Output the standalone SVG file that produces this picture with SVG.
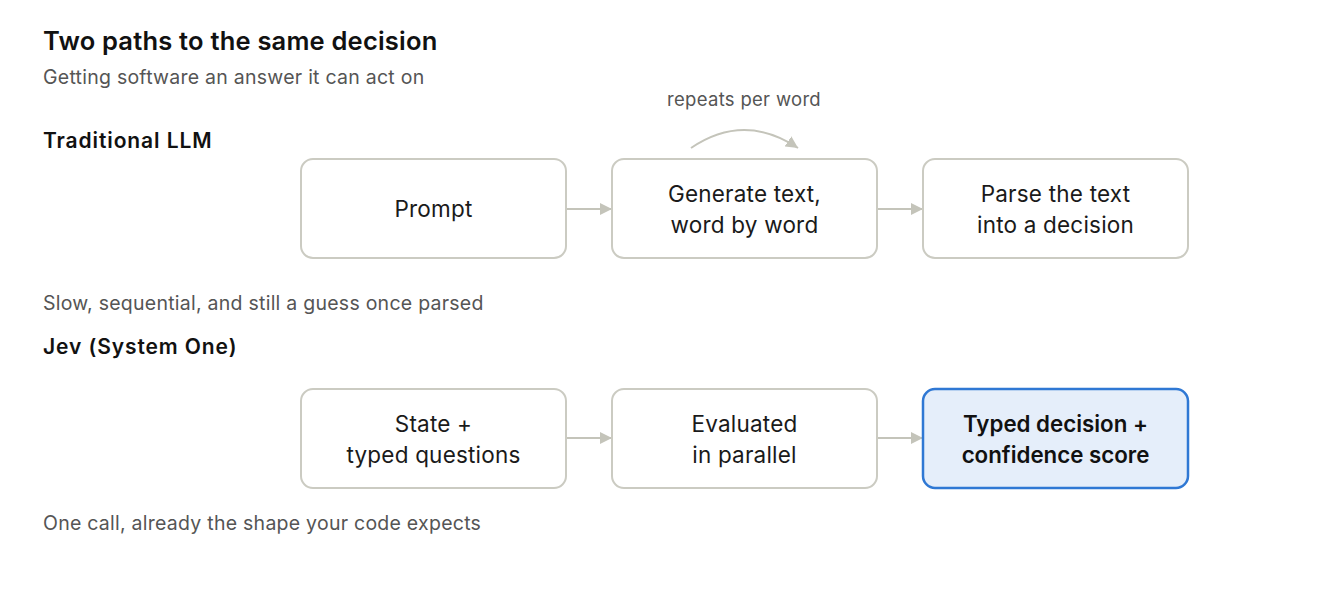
<svg xmlns="http://www.w3.org/2000/svg" width="1344" height="596" viewBox="0 0 1344 596">
<style>
text{font-family:Inter,"Noto Sans","Liberation Sans",sans-serif}
.title{font-size:25.5px;font-weight:600;fill:#111;letter-spacing:0.2px}
.sub{font-size:19.5px;fill:#555;letter-spacing:0.25px}
.sec{font-size:21px;font-weight:600;fill:#111;letter-spacing:0.9px}
.note{font-size:18.5px;fill:#555;letter-spacing:0.3px}
.box{fill:#fff;stroke:#cbcbc2;stroke-width:2}
.hl{fill:#e5eefa;stroke:#2f78d4;stroke-width:2.5}
.bt{font-size:22.5px;fill:#1a1a1a;text-anchor:middle;letter-spacing:0.2px}
.bb{font-size:22.3px;font-weight:600;fill:#111;text-anchor:middle}
.conn{fill:none;stroke:#c4c4ba;stroke-width:2}
</style>
<defs>
<marker id="ah2" viewBox="0 0 10 10" refX="10" refY="5" markerWidth="12" markerHeight="12" markerUnits="userSpaceOnUse" orient="auto">
<path d="M0,0 L10,5 L0,10 z" fill="#c4c4ba"/>
</marker>
</defs>
<rect width="1344" height="596" fill="#fff"/>
<text class="title" x="43" y="50">Two paths to the same decision</text>
<text class="sub" x="43" y="84">Getting software an answer it can act on</text>
<text class="sec" x="43" y="148">Traditional LLM</text>
<text class="sub" x="43" y="310">Slow, sequential, and still a guess once parsed</text>
<text class="sec" x="43" y="354">Jev (System One)</text>
<text class="sub" x="43" y="530">One call, already the shape your code expects</text>
<text class="note" x="744" y="106" text-anchor="middle">repeats per word</text>
<g id="connectors">
<path class="conn" d="M566,209 L612,209" marker-end="url(#ah2)"/>
<path class="conn" d="M877,209 L923,209" marker-end="url(#ah2)"/>
<path class="conn" d="M566,438 L612,438" marker-end="url(#ah2)"/>
<path class="conn" d="M877,438 L923,438" marker-end="url(#ah2)"/>
<path class="conn" d="M691,148 Q744,112 798,148" marker-end="url(#ah2)"/>
</g>
<g id="prompt"><rect class="box" x="301" y="159" width="265" height="99" rx="12"/><text class="bt" x="433.5" y="217">Prompt</text></g>
<g id="generate"><rect class="box" x="612" y="159" width="265" height="99" rx="12"/><text class="bt" x="744.5" y="202">Generate text,</text><text class="bt" x="744.5" y="233">word by word</text></g>
<g id="parse"><rect class="box" x="923" y="159" width="265" height="99" rx="12"/><text class="bt" x="1055.5" y="202">Parse the text</text><text class="bt" x="1055.5" y="233">into a decision</text></g>
<g id="state"><rect class="box" x="301" y="389" width="265" height="99" rx="12"/><text class="bt" x="433.5" y="432">State +</text><text class="bt" x="433.5" y="463">typed questions</text></g>
<g id="evaluated"><rect class="box" x="612" y="389" width="265" height="99" rx="12"/><text class="bt" x="744.5" y="432">Evaluated</text><text class="bt" x="744.5" y="463">in parallel</text></g>
<g id="decision"><rect class="hl" x="923" y="389" width="265" height="99" rx="12"/><text class="bb" x="1055.5" y="432">Typed decision +</text><text class="bb" x="1055.5" y="463">confidence score</text></g>
</svg>
